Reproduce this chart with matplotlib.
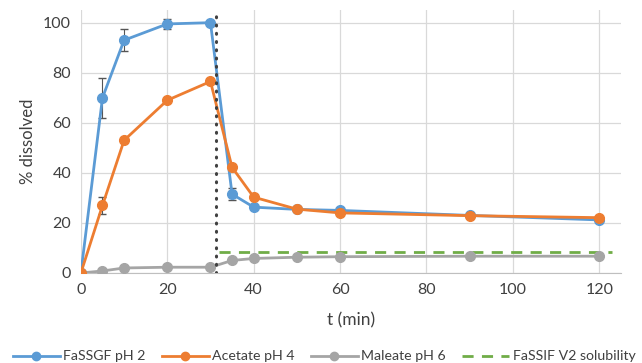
import numpy as np
import matplotlib.pyplot as plt
from matplotlib.lines import Line2D

# sampling times (min)
t = [0, 5, 10, 20, 30, 35, 40, 50, 60, 90, 120]

# % dissolved for each medium
fassgf = [0, 70, 93, 99.5, 100, 31.5, 26.3, 25.4, 25, 23, 21.2]
fassgf_err = [0, 8, 4.5, 2, 0.5, 2.5, 0, 0, 0, 0, 0]
acetate = [0, 27, 53, 69, 76.5, 42.2, 30.3, 25.5, 24, 22.9, 22.1]
acetate_err = [0, 3.5, 0, 0, 0, 0, 0, 0, 0, 0, 0]
maleate = [0, 0.8, 2, 2.3, 2.3, 5, 5.8, 6.3, 6.5, 6.7, 6.7]

# FaSSIF V2 solubility level and medium switch time
solubility = 8.5
sol_t = [32, 123]
switch_t = 31.3

names = ['FaSSGF pH 2', 'Acetate pH 4', 'Maleate pH 6', 'FaSSIF V2 solubility']

blue = '#5B9BD5'
orange = '#ED7D31'
gray = '#A5A5A5'
green = '#70AD47'
txt = '#404040'

plt.rcParams['font.family'] = ['Lato', 'DejaVu Sans']

fig = plt.figure(figsize=(6.42, 3.63), dpi=100)
ax = fig.add_axes([0.126, 0.248, 0.841, 0.724])

ax.errorbar(t, fassgf, yerr=fassgf_err, color=blue, lw=2, marker='o', ms=7,
            ecolor='#555555', elinewidth=0.8, capsize=3, zorder=3)
ax.errorbar(t, acetate, yerr=acetate_err, color=orange, lw=2, marker='o', ms=7,
            ecolor='#555555', elinewidth=0.8, capsize=3, zorder=4)
ax.plot(t, maleate, color=gray, lw=2, marker='o', ms=7, zorder=3)
ax.plot(sol_t, [solubility, solubility], color=green, lw=2, ls=(0, (4, 3)), zorder=2)
ax.axvline(switch_t, color='#404040', lw=2.2, ls=(0, (0.3, 2.4)),
           dash_capstyle='round', zorder=5)

ax.set_xlim(0, 125)
ax.set_ylim(0, 105)
ax.set_xticks(np.arange(0, 121, 20))
ax.set_yticks(np.arange(0, 101, 20))
ax.grid(color='#D9D9D9', lw=0.9)
ax.set_axisbelow(True)
for s in ['top', 'right', 'left']:
    ax.spines[s].set_visible(False)
ax.spines['bottom'].set_color('#BFBFBF')
ax.tick_params(length=0, labelsize=11.5, colors=txt, pad=7)
ax.set_xlabel('t (min)', fontsize=12.5, color=txt, labelpad=11)
ax.set_ylabel('% dissolved', fontsize=12, color=txt, labelpad=5)

handles = [
    Line2D([], [], color=blue, lw=2, marker='o', ms=6),
    Line2D([], [], color=orange, lw=2, marker='o', ms=6),
    Line2D([], [], color=gray, lw=2, marker='o', ms=6),
    Line2D([], [], color=green, lw=2, ls=(0, (4, 3))),
]
fig.legend(handles, names, loc='center', bbox_to_anchor=(0.505, 0.018), ncol=4,
           frameon=False, fontsize=10.2, handlelength=3.3, columnspacing=1.15,
           handletextpad=0.25, labelcolor=txt, borderaxespad=0, borderpad=0)

fig.savefig('out.png', dpi=100)
